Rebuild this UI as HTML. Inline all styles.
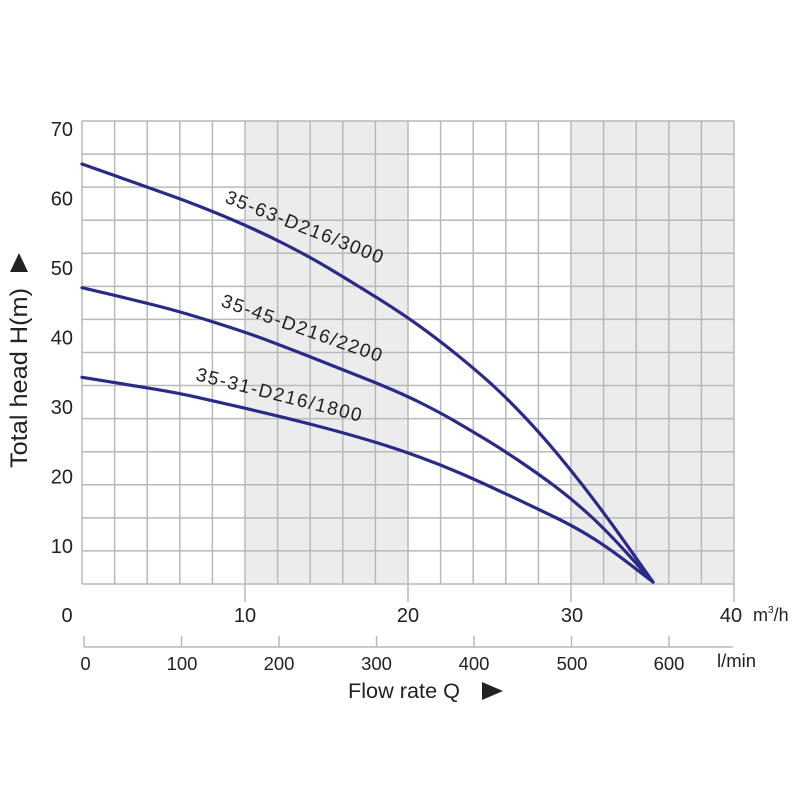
<!DOCTYPE html>
<html><head><meta charset="utf-8"><style>
html,body{margin:0;padding:0;background:#fff;}
svg{display:block;}
text{font-family:"Liberation Sans",Arial,sans-serif;fill:#222;}
</style></head><body>
<svg width="800" height="800" viewBox="0 0 800 800" xmlns="http://www.w3.org/2000/svg">
<rect x="0" y="0" width="800" height="800" fill="#fff"/>
<rect x="245" y="121" width="163" height="463" fill="#ececec"/>
<rect x="571" y="121" width="163" height="463" fill="#ececec"/>
<g stroke="#b9b9b9" stroke-width="1.5" fill="none">
<line x1="82" y1="121" x2="82" y2="584"/>
<line x1="114.6" y1="121" x2="114.6" y2="584"/>
<line x1="147.2" y1="121" x2="147.2" y2="584"/>
<line x1="179.8" y1="121" x2="179.8" y2="584"/>
<line x1="212.4" y1="121" x2="212.4" y2="584"/>
<line x1="245" y1="121" x2="245" y2="602"/>
<line x1="277.6" y1="121" x2="277.6" y2="584"/>
<line x1="310.2" y1="121" x2="310.2" y2="584"/>
<line x1="342.8" y1="121" x2="342.8" y2="584"/>
<line x1="375.4" y1="121" x2="375.4" y2="584"/>
<line x1="408" y1="121" x2="408" y2="602"/>
<line x1="440.6" y1="121" x2="440.6" y2="584"/>
<line x1="473.2" y1="121" x2="473.2" y2="584"/>
<line x1="505.8" y1="121" x2="505.8" y2="584"/>
<line x1="538.4" y1="121" x2="538.4" y2="584"/>
<line x1="571" y1="121" x2="571" y2="602"/>
<line x1="603.6" y1="121" x2="603.6" y2="584"/>
<line x1="636.2" y1="121" x2="636.2" y2="584"/>
<line x1="668.8" y1="121" x2="668.8" y2="584"/>
<line x1="701.4" y1="121" x2="701.4" y2="584"/>
<line x1="734" y1="121" x2="734" y2="602"/>
<line x1="82" y1="121" x2="734" y2="121"/>
<line x1="82" y1="154.07" x2="734" y2="154.07"/>
<line x1="82" y1="187.14" x2="734" y2="187.14"/>
<line x1="82" y1="220.21" x2="734" y2="220.21"/>
<line x1="82" y1="253.28" x2="734" y2="253.28"/>
<line x1="82" y1="286.35" x2="734" y2="286.35"/>
<line x1="82" y1="319.42" x2="734" y2="319.42"/>
<line x1="82" y1="352.49" x2="734" y2="352.49"/>
<line x1="82" y1="385.56" x2="734" y2="385.56"/>
<line x1="82" y1="418.63" x2="734" y2="418.63"/>
<line x1="82" y1="451.7" x2="734" y2="451.7"/>
<line x1="82" y1="484.77" x2="734" y2="484.77"/>
<line x1="82" y1="517.84" x2="734" y2="517.84"/>
<line x1="82" y1="550.91" x2="734" y2="550.91"/>
<line x1="82" y1="584" x2="734" y2="584"/>
<line x1="84" y1="647" x2="733" y2="647"/>
<line x1="84" y1="636" x2="84" y2="647"/>
<line x1="181.5" y1="636" x2="181.5" y2="647"/>
<line x1="279" y1="636" x2="279" y2="647"/>
<line x1="376.5" y1="636" x2="376.5" y2="647"/>
<line x1="474" y1="636" x2="474" y2="647"/>
<line x1="571.5" y1="636" x2="571.5" y2="647"/>
<line x1="669" y1="636" x2="669" y2="647"/>
</g>
<g stroke="#2a2a88" stroke-width="3.2" fill="none" stroke-linejoin="round" stroke-linecap="round">
<path d="M82,164 L111,174.25 Q140,184.5 170,195.25 Q200,206 230,218.75 Q260,231.5 285,244.25 Q310,257 330,269 Q350,281 375,296.5 Q400,312 420,326.4 Q440,340.8 460,357.2 Q480,373.6 493.5,386 Q507,398.4 523.5,415.75 Q540,433.1 556.5,452.9 Q573,472.7 590,494.8 Q607,516.9 630,549.45 L653,582"/>
<path d="M82,287.7 L106,293.35 Q130,299 155,305.25 Q180,311.5 212.5,321.75 Q245,332 262.5,338.5 Q280,345 310,356.75 Q340,368.5 370,380.5 Q400,392.5 420,402.5 Q440,412.5 455,421.25 Q470,430 485,439 Q500,448 520,461.5 Q540,475 556.5,487.5 Q573,500 590,515.5 Q607,531 630,556.5 L653,582"/>
<path d="M82,377.3 L106,381.15 Q130,385 155,389.15 Q180,393.3 200,397.9 Q220,402.5 240,407.1 Q260,411.7 280,416.6 Q300,421.5 316.5,425.75 Q333,430 351.5,435.25 Q370,440.5 385,445.25 Q400,450 420,457.25 Q440,464.5 460,473.1 Q480,481.7 510,495.85 Q540,510 556.5,518 Q573,526 590,536.35 Q607,546.7 630,564.35 L653,582"/>
</g>
<text transform="translate(224,202) rotate(21.6)" font-size="19" textLength="168" fill="#222">35-63-D216/3000</text>
<text transform="translate(220,306) rotate(19.4)" font-size="19" textLength="169" fill="#222">35-45-D216/2200</text>
<text transform="translate(195,380) rotate(14.2)" font-size="19" textLength="170" fill="#222">35-31-D216/1800</text>
<g font-size="20" text-anchor="end">
<text x="73" y="136">70</text>
<text x="73" y="205.5">60</text>
<text x="73" y="275">50</text>
<text x="73" y="344.5">40</text>
<text x="73" y="414">30</text>
<text x="73" y="483.5">20</text>
<text x="73" y="553">10</text>
</g>
<g font-size="20" text-anchor="middle">
<text x="67" y="622">0</text>
<text x="245" y="622">10</text>
<text x="408" y="622">20</text>
<text x="572" y="622">30</text>
<text x="731" y="622">40</text>
</g>
<text x="753" y="621" font-size="18">m<tspan font-size="10" dy="-8">3</tspan><tspan dy="8">/h</tspan></text>
<g font-size="18.5" text-anchor="middle">
<text x="85.5" y="670">0</text>
<text x="182" y="670">100</text>
<text x="279" y="670">200</text>
<text x="376.5" y="670">300</text>
<text x="474" y="670">400</text>
<text x="572" y="670">500</text>
<text x="669" y="670">600</text>
</g>
<text x="717" y="667" font-size="18.5">l/min</text>
<text x="348" y="698" font-size="21" textLength="112" lengthAdjust="spacingAndGlyphs">Flow rate Q</text>
<polygon points="482,682 503,691 482,700" fill="#222"/>
<text transform="translate(27,468) rotate(-90)" font-size="24" textLength="180" lengthAdjust="spacingAndGlyphs">Total head H(m)</text>
<polygon points="19,253 28,272 10,272" fill="#222"/>
</svg>
</body></html>
